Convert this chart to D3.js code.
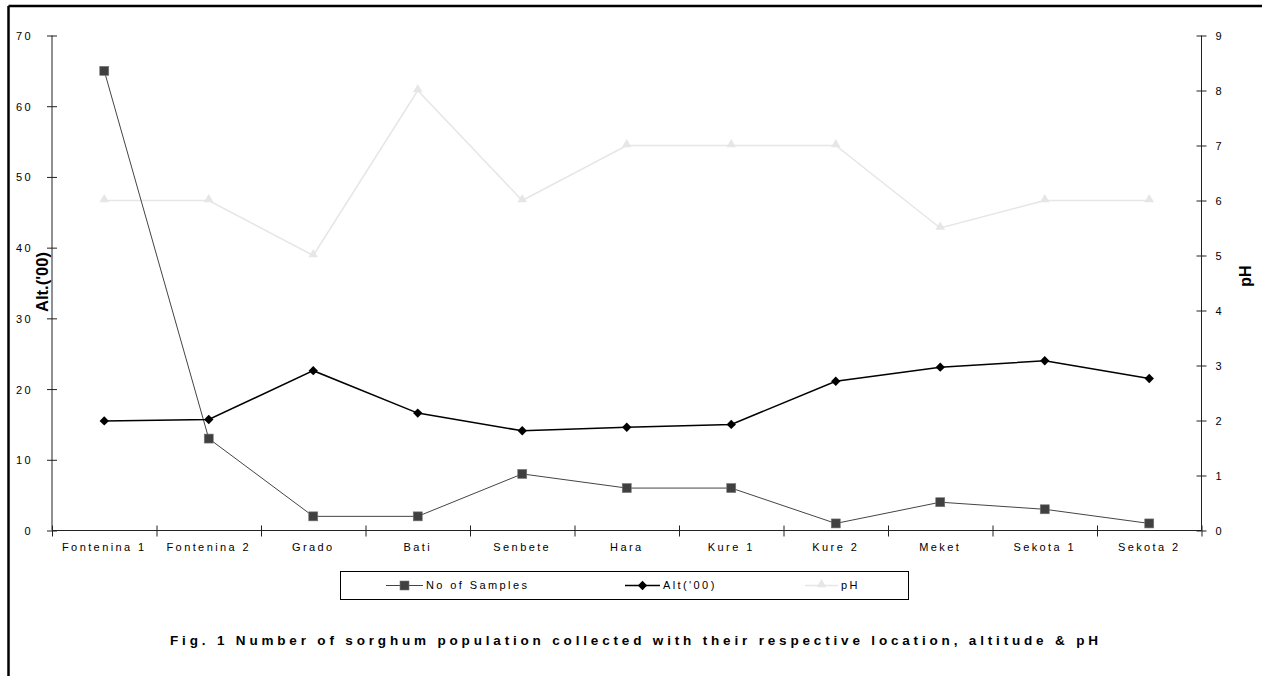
<!DOCTYPE html>
<html>
<head>
<meta charset="utf-8">
<script src="https://cdn.jsdelivr.net/npm/d3@7"></script>
<style>
  html, body { margin: 0; padding: 0; background: #fff; }
  svg { display: block; font-family: "Liberation Sans", Arial, sans-serif; }
</style>
</head>
<body>
<svg id="chart" width="1262" height="676"></svg>
<script>
// Sampling sites along the x axis
const sites = ["Fontenina 1", "Fontenina 2", "Grado", "Bati", "Senbete", "Hara",
               "Kure 1", "Kure 2", "Meket", "Sekota 1", "Sekota 2"];
// Number of sorghum samples collected per site (left axis)
const samples = [65, 13, 2, 2, 8, 6, 6, 1, 4, 3, 1];
// Altitude in hundreds of metres (left axis)
const altitude = [15.5, 15.7, 22.6, 16.6, 14.1, 14.6, 15.0, 21.1, 23.1, 24.0, 21.5];
// Soil pH (right axis)
const ph = [6, 6, 5, 8, 6, 7, 7, 7, 5.5, 6, 6];
// Axis tick values
const leftTicks = [0, 10, 20, 30, 40, 50, 60, 70];
const rightTicks = [0, 1, 2, 3, 4, 5, 6, 7, 8, 9];

const svg = d3.select("#chart");
const plot = { left: 52, right: 1201.5, top: 35.5, bottom: 530.5 };

const x = d3.scaleBand().domain(sites).range([plot.left, plot.right]).padding(0);
const xEdge = d3.scaleLinear().domain([0, sites.length]).range([plot.left, plot.right]);
const yL = d3.scaleLinear().domain([0, 70]).range([plot.bottom, plot.top]);
const yR = d3.scaleLinear().domain([0, 9]).range([plot.bottom, plot.top]);
const cx = d => x(d) + x.bandwidth() / 2;

const axisColor = "#222";
const tickFont = { size: "11px", spacing: "2.4px" };

// Frame lines along the top and left edges
svg.append("line").attr("x1", 8.5).attr("x2", 1262).attr("y1", 6).attr("y2", 6)
  .attr("stroke", "#000").attr("stroke-width", 2.5);
svg.append("line").attr("x1", 8.5).attr("x2", 8.5).attr("y1", 6).attr("y2", 676)
  .attr("stroke", "#000").attr("stroke-width", 2.5);

// Left value axis
const gL = svg.append("g").attr("transform", `translate(${plot.left},0)`)
  .call(d3.axisLeft(yL).tickValues(leftTicks).tickSize(5).tickPadding(14));
gL.selectAll(".tick line").attr("x1", 5).attr("x2", -5);
// Right value axis
const gR = svg.append("g").attr("transform", `translate(${plot.right},0)`)
  .call(d3.axisRight(yR).tickValues(rightTicks).tickSize(5).tickPadding(9));
gR.selectAll(".tick line").attr("x1", -5).attr("x2", 5);
// Category axis: boundary ticks and centred labels
const gE = svg.append("g").attr("transform", `translate(0,${plot.bottom})`)
  .call(d3.axisBottom(xEdge).ticks(sites.length).tickSize(6).tickFormat(""));
gE.selectAll(".tick line").attr("y1", -5).attr("y2", 6);
const gX = svg.append("g").attr("transform", `translate(0,${plot.bottom})`)
  .call(d3.axisBottom(x).tickSize(0).tickPadding(13));
gX.select(".domain").remove();

[gL, gR, gE].forEach(g => {
  g.select(".domain").attr("stroke", axisColor).attr("d", null);
  g.selectAll(".tick line").attr("stroke", axisColor);
});
gL.select(".domain").attr("d", `M0,${plot.top}V${plot.bottom}`);
gR.select(".domain").attr("d", `M0,${plot.top}V${plot.bottom}`);
gE.select(".domain").attr("d", `M${plot.left},0H${plot.right}`);

[gL, gR, gX].forEach(g => {
  g.selectAll("text").attr("fill", "#000")
    .style("font-size", tickFont.size).style("letter-spacing", tickFont.spacing)
    .style("font-family", "'Liberation Sans', Arial, sans-serif");
});
gL.selectAll("text").attr("dy", "0.36em");
gR.selectAll("text").attr("dy", "0.36em");

// Axis titles
svg.append("text")
  .attr("transform", `translate(48,282) rotate(-90)`)
  .attr("text-anchor", "middle")
  .attr("textLength", 60).attr("lengthAdjust", "spacingAndGlyphs")
  .style("font-size", "17px").style("font-weight", "bold")
  .text("Alt.('00)");
svg.append("text")
  .attr("transform", `translate(1251,276) rotate(-90)`)
  .attr("text-anchor", "middle")
  .style("font-size", "16px").style("font-weight", "bold")
  .text("pH");

// Series lines
const lineL = arr => d3.line().x((d, i) => cx(sites[i])).y(d => yL(d))(arr);
const lineR = arr => d3.line().x((d, i) => cx(sites[i])).y(d => yR(d))(arr);

svg.append("path").attr("d", lineR(ph))
  .attr("fill", "none").attr("stroke", "#e6e6e6").attr("stroke-width", 1.5);
svg.append("path").attr("d", lineL(samples))
  .attr("fill", "none").attr("stroke", "#444").attr("stroke-width", 1);
svg.append("path").attr("d", lineL(altitude))
  .attr("fill", "none").attr("stroke", "#000").attr("stroke-width", 1.5);

// Markers
const tri = d3.symbol().type(d3.symbolTriangle).size(40);
const dia = d3.symbol().type(d3.symbolDiamond2).size(56);

svg.append("g").selectAll("path").data(ph).join("path")
  .attr("d", tri)
  .attr("transform", (d, i) => `translate(${cx(sites[i])},${yR(d) - 1})`)
  .attr("fill", "#e6e6e6");
svg.append("g").selectAll("rect").data(samples).join("rect")
  .attr("x", (d, i) => cx(sites[i]) - 4.5).attr("y", d => yL(d) - 4.5)
  .attr("width", 9).attr("height", 9)
  .attr("fill", "#404040").attr("stroke", "#777").attr("stroke-width", 0.6);
svg.append("g").selectAll("path").data(altitude).join("path")
  .attr("d", dia)
  .attr("transform", (d, i) => `translate(${cx(sites[i])},${yL(d)})`)
  .attr("fill", "#000");

// Legend
const legend = svg.append("g");
legend.append("rect").attr("x", 340.5).attr("y", 571.5).attr("width", 568).attr("height", 28)
  .attr("fill", "#fff").attr("stroke", "#000").attr("stroke-width", 1);
const legendY = 585.5;
const legendItems = [
  { name: "No of Samples", x0: 386, x1: 423, color: "#444", w: 1 },
  { name: "Alt('00)", x0: 625, x1: 660, color: "#000", w: 1.5 },
  { name: "pH", x0: 805, x1: 838, color: "#e6e6e6", w: 1.5 }
];
legendItems.forEach((it, k) => {
  legend.append("line").attr("x1", it.x0).attr("x2", it.x1)
    .attr("y1", legendY).attr("y2", legendY)
    .attr("stroke", it.color).attr("stroke-width", it.w);
  const mx = (it.x0 + it.x1) / 2;
  if (k === 0) {
    legend.append("rect").attr("x", mx - 4.5).attr("y", legendY - 4.5)
      .attr("width", 9).attr("height", 9)
      .attr("fill", "#404040").attr("stroke", "#777").attr("stroke-width", 0.6);
  } else if (k === 1) {
    legend.append("path").attr("d", dia).attr("transform", `translate(${mx},${legendY})`)
      .attr("fill", "#000");
  } else {
    legend.append("path").attr("d", tri).attr("transform", `translate(${mx},${legendY - 1})`)
      .attr("fill", "#e6e6e6");
  }
  legend.append("text").attr("x", it.x1 + 3).attr("y", legendY).attr("dy", "0.36em")
    .style("font-size", "11px").style("letter-spacing", "2.4px")
    .text(it.name);
});

// Caption
svg.append("text")
  .attr("x", 634).attr("y", 645)
  .attr("text-anchor", "middle")
  .attr("textLength", 928).attr("lengthAdjust", "spacing")
  .style("font-size", "13.5px").style("font-weight", "bold")
  .text("Fig. 1 Number of sorghum population collected with their respective location, altitude & pH");
</script>
</body>
</html>
